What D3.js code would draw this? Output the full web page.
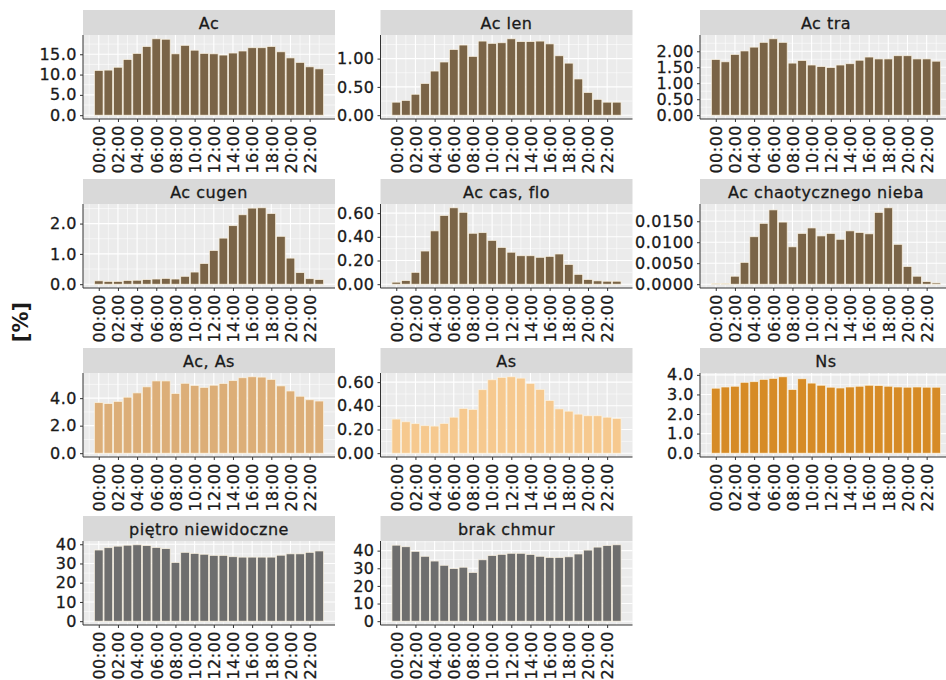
<!DOCTYPE html>
<html>
<head>
<meta charset="utf-8">
<script src="https://cdn.jsdelivr.net/npm/d3@7"></script>
<style>
  html, body { margin: 0; padding: 0; background: #fff; }
  svg { display: block; font-family: "DejaVu Sans", sans-serif; }
  .lbl { stroke: #1a1a1a; stroke-width: 0.3px; }
</style>
</head>
<body>
<svg id="chart" width="946" height="680"></svg>
<script>
// Hour of day categories (one bar per hour) and the labelled ticks
const hourLabels = ["00:00","01:00","02:00","03:00","04:00","05:00","06:00","07:00",
                    "08:00","09:00","10:00","11:00","12:00","13:00","14:00","15:00",
                    "16:00","17:00","18:00","19:00","20:00","21:00","22:00","23:00"];
const xTickLabels = ["00:00","02:00","04:00","06:00","08:00","10:00",
                     "12:00","14:00","16:00","18:00","20:00","22:00"];

// Share of observations [%] per hour, one array per cloud type
const ac        = [11.0,11.1,11.8,13.7,15.2,16.9,18.8,18.7,15.1,17.2,16.0,15.2,
                   15.1,14.8,15.3,15.8,16.6,16.6,16.9,15.6,14.1,13.0,11.9,11.4];
const acLen     = [0.23,0.26,0.37,0.56,0.78,0.94,1.16,1.24,1.04,1.31,1.27,1.28,
                   1.35,1.30,1.30,1.31,1.26,1.05,0.92,0.64,0.40,0.28,0.23,0.23];
const acTra     = [1.74,1.67,1.90,2.01,2.13,2.28,2.39,2.28,1.63,1.71,1.57,1.52,
                   1.49,1.57,1.61,1.72,1.82,1.76,1.76,1.86,1.86,1.76,1.76,1.69];
const acCugen   = [0.11,0.09,0.09,0.12,0.13,0.15,0.17,0.19,0.17,0.26,0.40,0.68,
                   1.11,1.52,1.93,2.29,2.51,2.52,2.33,1.58,0.86,0.38,0.18,0.15];
const acCasFlo  = [0.017,0.030,0.100,0.280,0.450,0.580,0.645,0.607,0.430,0.435,0.370,0.310,
                   0.270,0.240,0.240,0.227,0.235,0.255,0.166,0.083,0.039,0.028,0.025,0.025];
const acChaos   = [0.0002,0.0002,0.0019,0.0052,0.0113,0.0145,0.0177,0.0148,0.0089,0.0121,0.0134,0.0115,
                   0.0121,0.0107,0.0127,0.0123,0.0120,0.0171,0.0182,0.0095,0.0042,0.0019,0.0006,0.0003];
const acAs      = [3.67,3.60,3.76,4.07,4.38,4.82,5.25,5.25,4.33,5.08,4.92,4.78,
                   4.94,5.06,5.27,5.48,5.55,5.53,5.36,4.89,4.52,4.14,3.88,3.79];
const as        = [0.288,0.265,0.249,0.232,0.229,0.251,0.304,0.377,0.369,0.536,0.620,0.640,
                   0.645,0.634,0.589,0.539,0.444,0.374,0.355,0.330,0.316,0.316,0.304,0.293];
const ns        = [3.32,3.38,3.42,3.62,3.65,3.77,3.82,3.90,3.25,3.80,3.58,3.47,
                   3.37,3.33,3.38,3.42,3.47,3.45,3.42,3.38,3.37,3.38,3.37,3.37];
const pietroNiewidoczne = [37.0,38.2,39.0,39.5,39.7,39.3,38.3,37.7,30.5,35.8,35.2,34.8,
                   34.2,34.2,33.5,33.3,33.3,33.3,33.3,34.3,35.0,35.0,35.8,36.5];
const brakChmur = [43.1,42.2,39.6,36.8,34.1,31.7,29.8,30.6,27.6,34.8,37.2,37.9,
                   38.5,38.5,37.8,36.8,36.1,36.1,36.5,38.1,40.3,42.0,42.9,43.3];

// Facet titles and y-axis tick labels of each facet
const facetNames = ["Ac","Ac len","Ac tra","Ac cugen","Ac cas, flo","Ac chaotycznego nieba",
                    "Ac, As","As","Ns","piętro niewidoczne","brak chmur"];
const acTicks       = ["0.0","5.0","10.0","15.0"];
const acLenTicks    = ["0.00","0.50","1.00"];
const acTraTicks    = ["0.00","0.50","1.00","1.50","2.00"];
const acCugenTicks  = ["0.0","1.0","2.0"];
const acCasFloTicks = ["0.00","0.20","0.40","0.60"];
const acChaosTicks  = ["0.0000","0.0050","0.0100","0.0150"];
const acAsTicks     = ["0.0","2.0","4.0"];
const asTicks       = ["0.00","0.20","0.40","0.60"];
const nsTicks       = ["0.0","1.0","2.0","3.0","4.0"];
const pietroTicks   = ["0","10","20","30","40"];
const brakTicks     = ["0","10","20","30","40"];

const facetValues = [ac, acLen, acTra, acCugen, acCasFlo, acChaos, acAs, as, ns, pietroNiewidoczne, brakChmur];
const facetTicks  = [acTicks, acLenTicks, acTraTicks, acCugenTicks, acCasFloTicks, acChaosTicks,
                     acAsTicks, asTicks, nsTicks, pietroTicks, brakTicks];

// Bar fill per facet
const brown = "#7a6447", tan = "#dcae78", peach = "#f6c98f", orange = "#d68b26", grey = "#6e6e6e";
const facetFills = [brown, brown, brown, brown, brown, brown, tan, peach, orange, grey, grey];

// Layout of the 4 x 3 facet grid
const colX = [83, 380.5, 700];
const rowY = [10, 179, 348, 516];
const stripH = 25, plotH = 84, plotW = 252;
const fontSize = 16;

const svg = d3.select("#chart");

svg.append("text")
  .attr("transform", "translate(21,322) rotate(-90)")
  .attr("text-anchor", "middle")
  .attr("dominant-baseline", "central")
  .attr("font-size", 21)
  .attr("font-weight", "bold")
  .attr("fill", "#1a1a1a")
  .text("[%]");

facetNames.forEach((name, k) => {
  const values = facetValues[k];
  const ticks = facetTicks[k];
  const c = k % 3, r = Math.floor(k / 3);
  const g = svg.append("g").attr("transform", `translate(${colX[c]},${rowY[r]})`);

  // strip
  g.append("rect").attr("width", plotW).attr("height", stripH).attr("fill", "#d9d9d9");
  g.append("text")
    .attr("class", "lbl")
    .attr("x", plotW / 2).attr("y", stripH / 2 + 1)
    .attr("text-anchor", "middle").attr("dominant-baseline", "central")
    .attr("font-size", fontSize).attr("letter-spacing", 0.5)
    .attr("fill", "#1a1a1a").text(name);

  const p = g.append("g").attr("transform", `translate(0,${stripH})`);
  p.append("rect").attr("width", plotW).attr("height", plotH).attr("fill", "#ebebeb");

  // continuous hour scale with 5% padding around the bar extent
  const lo = -0.45, hi = hourLabels.length - 1 + 0.45, padX = 0.05 * (hi - lo);
  const x = d3.scaleLinear().domain([lo - padX, hi + padX]).range([0, plotW]);
  const vmax = d3.max(values);
  const y = d3.scaleLinear().domain([-0.05 * vmax, 1.05 * vmax]).range([plotH, 0]);

  const tickVals = ticks.map(Number);
  const step = tickVals[1] - tickVals[0];
  const yMinor = [tickVals[0] - step / 2, ...tickVals.map(t => t + step / 2)]
    .filter(v => v > y.domain()[0] && v < y.domain()[1]);
  const xMajor = xTickLabels.map(l => hourLabels.indexOf(l));
  const xMinor = [xMajor[0] - 1, ...xMajor.map(t => t + 1)]
    .filter(v => v > x.domain()[0] && v < x.domain()[1]);

  const grid = p.append("g").attr("stroke", "#ffffff");
  grid.selectAll(".ymin").data(yMinor).join("line")
    .attr("x1", 0).attr("x2", plotW).attr("y1", d => y(d)).attr("y2", d => y(d)).attr("stroke-width", 0.55);
  grid.selectAll(".xmin").data(xMinor).join("line")
    .attr("y1", 0).attr("y2", plotH).attr("x1", d => x(d)).attr("x2", d => x(d)).attr("stroke-width", 0.55);
  grid.selectAll(".ymaj").data(tickVals).join("line")
    .attr("x1", 0).attr("x2", plotW).attr("y1", d => y(d)).attr("y2", d => y(d)).attr("stroke-width", 1.1);
  grid.selectAll(".xmaj").data(xMajor).join("line")
    .attr("y1", 0).attr("y2", plotH).attr("x1", d => x(d)).attr("x2", d => x(d)).attr("stroke-width", 1.1);

  // bars
  p.append("g").selectAll("rect").data(values).join("rect")
    .attr("x", (d, i) => x(i - 0.45))
    .attr("width", (d, i) => x(i + 0.45) - x(i - 0.45))
    .attr("y", d => y(d))
    .attr("height", d => y(0) - y(d))
    .attr("fill", facetFills[k])
    .attr("stroke", "#fbf3e2")
    .attr("stroke-width", 0.7);

  // y axis
  const yAxis = p.append("g").call(
    d3.axisLeft(y).tickValues(tickVals).tickFormat((d, i) => ticks[i]).tickSize(3).tickPadding(3));
  yAxis.select(".domain").remove();
  yAxis.selectAll("line").attr("stroke", "#333");
  yAxis.selectAll("text")
    .attr("class", "lbl")
    .attr("font-size", fontSize).attr("letter-spacing", 0.5)
    .attr("font-family", "DejaVu Sans").attr("fill", "#1a1a1a");

  // x axis
  const xAxis = p.append("g").attr("transform", `translate(0,${plotH})`).call(
    d3.axisBottom(x).tickValues(xMajor).tickFormat((d, i) => xTickLabels[i]).tickSize(3));
  xAxis.select(".domain").remove();
  xAxis.selectAll("line").attr("stroke", "#333");
  xAxis.selectAll("text")
    .attr("class", "lbl")
    .attr("transform", "rotate(-90)")
    .attr("x", -6).attr("y", 0).attr("dy", "0.36em")
    .attr("text-anchor", "end")
    .attr("font-size", fontSize).attr("letter-spacing", 0.5)
    .attr("font-family", "DejaVu Sans").attr("fill", "#1a1a1a");

  // axis lines
  p.append("line").attr("x1", 0).attr("x2", 0).attr("y1", 0).attr("y2", plotH)
    .attr("stroke", "#333").attr("stroke-width", 1);
  p.append("line").attr("x1", 0).attr("x2", plotW).attr("y1", plotH).attr("y2", plotH)
    .attr("stroke", "#333").attr("stroke-width", 1);
});
</script>
</body>
</html>
